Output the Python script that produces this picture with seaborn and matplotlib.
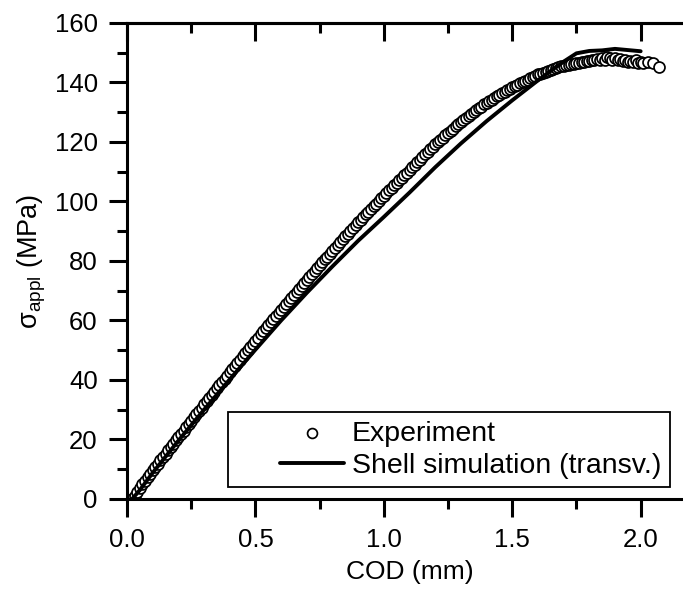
import matplotlib
matplotlib.use("Agg")
import matplotlib.pyplot as plt
from matplotlib.ticker import MultipleLocator, FormatStrFormatter
from matplotlib.lines import Line2D
from matplotlib.collections import PathCollection
from matplotlib.legend_handler import HandlerLine2D, HandlerPathCollection
import seaborn as sns
import pandas as pd

# Experimental crack-opening-displacement (mm) vs applied stress (MPa)
exp_cod = [
    0.02, 0.03, 0.04, 0.05, 0.06, 0.07, 0.08, 0.09, 0.10,
    0.11, 0.12, 0.13, 0.14, 0.15, 0.16, 0.17, 0.18, 0.19, 0.20,
    0.21, 0.22, 0.23, 0.24, 0.25, 0.26, 0.27, 0.28, 0.29, 0.30,
    0.31, 0.32, 0.33, 0.34, 0.35, 0.36, 0.37, 0.38, 0.39, 0.40,
    0.41, 0.42, 0.43, 0.44, 0.45, 0.46, 0.47, 0.48, 0.49, 0.50,
    0.51, 0.52, 0.53, 0.54, 0.55, 0.56, 0.57, 0.58, 0.59, 0.60,
    0.61, 0.62, 0.63, 0.64, 0.65, 0.66, 0.67, 0.68, 0.69, 0.70,
    0.71, 0.72, 0.73, 0.74, 0.75, 0.76, 0.77, 0.78, 0.79, 0.80,
    0.81, 0.82, 0.83, 0.84, 0.85, 0.86, 0.87, 0.88, 0.89, 0.90,
    0.91, 0.92, 0.93, 0.94, 0.95, 0.96, 0.97, 0.98, 0.99, 1.00,
    1.01, 1.02, 1.03, 1.04, 1.05, 1.06, 1.07, 1.08, 1.09, 1.10,
    1.11, 1.12, 1.13, 1.14, 1.15, 1.16, 1.17, 1.18, 1.19, 1.20,
    1.21, 1.22, 1.23, 1.24, 1.25, 1.26, 1.27, 1.28, 1.29, 1.30,
    1.31, 1.32, 1.33, 1.34, 1.35, 1.36, 1.37, 1.38, 1.39, 1.40,
    1.41, 1.42, 1.43, 1.44, 1.45, 1.46, 1.47, 1.48, 1.49, 1.50,
    1.51, 1.52, 1.53, 1.54, 1.55, 1.56, 1.57, 1.58, 1.59, 1.60,
    1.61, 1.62, 1.63, 1.64, 1.65, 1.66, 1.67, 1.68, 1.69, 1.70,
    1.71, 1.72, 1.73, 1.74, 1.75, 1.76, 1.77, 1.78, 1.79, 1.80,
    1.81, 1.82, 1.83, 1.84, 1.85, 1.86, 1.87, 1.88, 1.89, 1.90,
    1.91, 1.92, 1.93, 1.94, 1.95, 1.96, 1.97, 1.98, 1.99, 2.00,
    2.01, 2.03, 2.05, 2.07,
]
exp_stress = [
    0.0, 1.0, 2.3, 3.6, 4.9, 6.1, 7.3, 8.5, 9.6,
    10.7, 11.8, 13.0, 14.1, 15.2, 16.3, 17.4, 18.6, 19.7, 20.8,
    21.9, 23.0, 24.1, 25.2, 26.3, 27.4, 28.5, 29.6, 30.7, 31.8,
    32.9, 34.0, 35.0, 36.1, 37.2, 38.3, 39.4, 40.4, 41.5, 42.6,
    43.7, 44.7, 45.8, 46.8, 47.9, 49.0, 50.0, 51.1, 52.1, 53.2,
    54.2, 55.3, 56.3, 57.4, 58.4, 59.4, 60.5, 61.5, 62.6, 63.6,
    64.6, 65.6, 66.6, 67.6, 68.7, 69.7, 70.7, 71.7, 72.7, 73.7,
    74.7, 75.7, 76.6, 77.6, 78.6, 79.6, 80.6, 81.5, 82.5, 83.5,
    84.5, 85.4, 86.4, 87.3, 88.3, 89.2, 90.2, 91.1, 92.1, 93.0,
    93.9, 94.8, 95.7, 96.6, 97.5, 98.4, 99.3, 100.2, 101.1, 102.0,
    102.9, 103.7, 104.6, 105.4, 106.3, 107.2, 108.0, 108.9, 109.7, 110.6,
    111.5, 112.3, 113.2, 114.0, 114.9, 115.8, 116.6, 117.5, 118.3, 119.2,
    120.0, 120.7, 121.5, 122.2, 123.0, 123.8, 124.5, 125.3, 126.0, 126.8,
    127.4, 128.1, 128.7, 129.4, 130.0, 130.6, 131.3, 131.9, 132.6, 133.2,
    133.7, 134.2, 134.8, 135.3, 135.8, 136.3, 136.8, 137.4, 137.9, 138.4,
    138.8, 139.3, 139.7, 140.1, 140.6, 141.0, 141.4, 141.8, 142.3, 142.7,
    143.0, 143.3, 143.6, 143.9, 144.2, 144.5, 144.8, 145.1, 145.4, 145.7,
    145.9, 146.0, 146.2, 146.3, 146.5, 146.7, 146.8, 147.0, 147.1, 147.3,
    147.6, 147.4, 147.9, 147.5, 148.2, 147.7, 148.6, 148.1, 147.6, 148.3,
    147.4, 147.9, 147.2, 147.6, 146.9, 147.3, 146.8, 147.4, 146.7, 147.0,
    146.5, 146.8, 146.4, 145.3,
]

# Shell-element simulation, transverse direction
sim_cod = [0.02, 0.05, 0.10, 0.20, 0.30, 0.40, 0.50, 0.60, 0.70, 0.80,
           0.90, 1.00, 1.10, 1.20, 1.30, 1.40, 1.50, 1.60, 1.65, 1.70,
           1.75, 1.80, 1.85, 1.90, 1.95, 2.00]
sim_stress = [0.0, 3.0, 8.8, 19.6, 30.0, 40.2, 50.2, 60.0, 69.3, 78.2,
              86.8, 94.8, 103.0, 111.5, 119.5, 127.0, 134.0, 140.7, 143.9, 147.0,
              149.8, 150.6, 150.8, 151.3, 150.9, 150.5]

EXP_LABEL = "Experiment"
SIM_LABEL = "Shell simulation (transv.)"

exp_df = pd.DataFrame({"cod": exp_cod, "stress": exp_stress})
sim_df = pd.DataFrame({"cod": sim_cod, "stress": sim_stress})

sns.set_theme(style="ticks")
plt.rcParams.update({
    "font.family": ["Liberation Sans", "DejaVu Sans"],
    "font.size": 18.5,
    "mathtext.fontset": "custom",
    "mathtext.rm": "Liberation Sans",
    "mathtext.it": "Liberation Sans:italic",
    "mathtext.default": "regular",
    "axes.linewidth": 2.2,
    "axes.edgecolor": "black",
    "text.color": "black",
    "axes.labelcolor": "black",
    "xtick.color": "black",
    "ytick.color": "black",
})

fig = plt.figure(figsize=(6.83, 5.94), dpi=100)
ax = fig.add_axes([0.186, 0.160, 0.8272, 0.8013])

sns.scatterplot(data=exp_df, x="cod", y="stress", ax=ax, marker="o",
                s=62, facecolor="white", edgecolor="black", linewidth=1.25,
                label=EXP_LABEL, zorder=2)
sns.lineplot(data=sim_df, x="cod", y="stress", ax=ax, color="black",
             linewidth=2.8, estimator=None, sort=False,
             label=SIM_LABEL, zorder=3)

ax.set_xlim(0, 2.2)
ax.set_ylim(0, 160)
ax.xaxis.set_major_locator(MultipleLocator(0.5))
ax.xaxis.set_minor_locator(MultipleLocator(0.25))
ax.yaxis.set_major_locator(MultipleLocator(20))
ax.yaxis.set_minor_locator(MultipleLocator(10))
ax.xaxis.set_major_formatter(FormatStrFormatter("%.1f"))

ax.tick_params(axis="both", which="major", direction="out", length=13,
               width=2.2, labelsize=18.5, pad=8)
ax.tick_params(axis="both", which="minor", direction="out", length=7,
               width=2.2)
ax.tick_params(top=False, right=False)
for side in ("top", "right", "left", "bottom"):
    ax.spines[side].set_visible(True)

# Mirrored top axis with inward ticks
top = ax.secondary_xaxis("top")
top.xaxis.set_major_locator(MultipleLocator(0.5))
top.xaxis.set_minor_locator(MultipleLocator(0.25))
top.tick_params(which="major", direction="in", length=13, width=2.2,
                labeltop=False)
top.tick_params(which="minor", direction="in", length=7, width=2.2)
top.spines["top"].set_linewidth(2.2)

ax.set_xlabel("COD (mm)", fontsize=19, labelpad=6)
ax.set_ylabel("σ$_{appl}$ (MPa)", fontsize=19.5, labelpad=5)

handles, labels = ax.get_legend_handles_labels()
order = [labels.index(EXP_LABEL), labels.index(SIM_LABEL)]
leg = ax.legend(
    [handles[i] for i in order], [labels[i] for i in order],
    loc="lower right", bbox_to_anchor=(0.961, 0.025),
    borderaxespad=0, frameon=True, fancybox=False, shadow=False,
    edgecolor="black", framealpha=1, fontsize=20.5,
    handlelength=3.76, handletextpad=0.28, labelspacing=0.2,
    borderpad=0.3, markerscale=0.9,
    handler_map={Line2D: HandlerLine2D(xpad=1.51),
                 PathCollection: HandlerPathCollection(xpad=1.51)},
)
leg.get_frame().set_linewidth(1.3)

fig.savefig("out.png", dpi=100)
